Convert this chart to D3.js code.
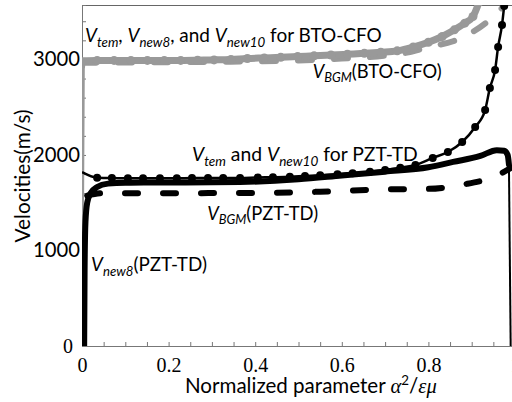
<!DOCTYPE html>
<html>
<head>
<meta charset="utf-8">
<style>
    body { margin: 0; background: #fff; }
    svg { display: block; }
</style>
</head>
<body>
<svg id="chart" width="512" height="402"></svg>
<script src="https://d3js.org/d3.v7.min.js"></script>
<script>
    // BTO-CFO : V_tem / V_new8 / V_new10 (grey solid with dots)
    let btoTemX = [0, 0.035, 0.074, 0.113, 0.151, 0.19, 0.228, 0.267, 0.305, 0.344, 0.382, 0.421, 0.459, 0.498,
        0.536, 0.575, 0.613, 0.652, 0.69, 0.728, 0.765, 0.8, 0.832, 0.86, 0.884, 0.903, 0.917];
    let btoTem = [2985, 2990, 2990, 2990, 2990, 2990, 2990, 2992, 2995, 3000, 3010, 3016, 3022, 3030,
        3038, 3046, 3055, 3064, 3075, 3090, 3130, 3180, 3240, 3310, 3380, 3450, 3600];
    // BTO-CFO : V_new8 rise at α→0
    let btoRiseX = [0.001, 0.003, 0.006];
    let btoRise = [1200, 2900, 2985];
    // BTO-CFO : V_BGM (grey dashed)
    let btoBgmX = [0, 0.15, 0.3, 0.5, 0.6, 0.7, 0.76, 0.8, 0.857, 0.903, 0.945, 0.975, 0.985];
    let btoBgm = [2965, 2970, 2975, 2990, 3010, 3040, 3080, 3130, 3190, 3290, 3430, 3570, 3640];

    // PZT-TD : V_tem / V_new10 (black thin with dots)
    let pztTemX = [0, 0.035, 0.069, 0.106, 0.141, 0.18, 0.219, 0.254, 0.291, 0.326, 0.365, 0.406, 0.441, 0.48,
        0.515, 0.55, 0.59, 0.625, 0.665, 0.7, 0.735, 0.77, 0.81, 0.845, 0.878, 0.908, 0.931, 0.942, 0.954, 0.961,
        0.97, 0.975];
    let pztTem = [1820, 1762, 1758, 1757, 1757, 1757, 1757, 1758, 1758, 1759, 1759, 1765, 1767, 1773,
        1780, 1787, 1798, 1808, 1825, 1843, 1867, 1895, 1969, 2031, 2136, 2293, 2470, 2702, 2890, 3131,
        3361, 3560];
    // PZT-TD : V_new8 (black thick)
    let pztNew8X = [0.005, 0.006, 0.008, 0.012, 0.02, 0.035, 0.06, 0.1, 0.2, 0.365, 0.5, 0.6, 0.7, 0.8,
        0.857, 0.92, 0.958, 0.975, 0.983, 0.986];
    let pztNew8 = [0, 800, 1300, 1500, 1600, 1665, 1700, 1710, 1712, 1717, 1745, 1785, 1825, 1872,
        1927, 1990, 2050, 2045, 2000, 1900];
    let pztDropX = [0.986, 0.99];
    let pztDrop = [1900, 0];
    // PZT-TD : V_BGM (black dashed)
    let pztBgmX = [0.012, 0.05, 0.2, 0.4, 0.55, 0.7, 0.8, 0.88, 0.95, 0.97, 0.99];
    let pztBgm = [1575, 1600, 1600, 1603, 1615, 1640, 1645, 1690, 1770, 1812, 1864];

    let xMajor = [0, 0.2, 0.4, 0.6, 0.8, 1];
    let yMajor = [0, 1000, 2000, 3000];

    // annotation texts, anchored at (x value, velocity)
    let notes = [
        { x: 0.007, y: 3183, parts: [["V", "i"], ["tem", "s"], [", ", "n"], ["V", "i"], ["new8", "s"], [", and ", "n"], ["V", "i"], ["new10", "s"], [" for BTO-CFO", "n"]] },
        { x: 0.533, y: 2806, parts: [["V", "i"], ["BGM", "s"], ["(BTO-CFO)", "n"]] },
        { x: 0.254, y: 1937, parts: [["V", "i"], ["tem", "s"], [" and ", "n"], ["V", "i"], ["new10", "s"], [" for PZT-TD", "n"]] },
        { x: 0.289, y: 1319, parts: [["V", "i"], ["BGM", "s"], ["(PZT-TD)", "n"]] },
        { x: 0.021, y: 785, parts: [["V", "i"], ["new8", "s"], ["(PZT-TD)", "n"]] }
    ];
    let noteWidths = [297, 129, 226, 111, 116];

    let svg = d3.select("#chart");
    let sans = "Lato, 'Open Sans', sans-serif";
    let serif = "'Liberation Serif', 'DejaVu Serif', serif";

    let x = d3.scaleLinear().domain([0, 1]).range([82, 515]);
    let y = d3.scaleLinear().domain([0, 3570]).range([346, 5]);

    let zip = (xs, ys) => xs.map((v, i) => [v, ys[i]]);

    svg.append("clipPath").attr("id", "plot")
        .append("rect").attr("x", 82).attr("y", 5).attr("width", 433).attr("height", 341);

    // frame top
    svg.append("line").attr("x1", 82).attr("x2", 515).attr("y1", 5.5).attr("y2", 5.5)
        .attr("stroke", "#666").attr("stroke-width", 1);

    // axes (minor ticks pointing inward)
    let xAxis = svg.append("g").attr("transform", "translate(0,346)")
        .call(d3.axisBottom(x).tickValues(d3.range(0, 1.001, 0.05)).tickSize(-4).tickFormat(""));
    let yAxis = svg.append("g").attr("transform", "translate(82,0)")
        .call(d3.axisLeft(y).tickValues(d3.range(0, 3401, 200)).tickSize(-4).tickFormat(""));
    [xAxis, yAxis].forEach((a) => {
        a.select(".domain").attr("stroke", "#777");
        a.selectAll(".tick line").attr("stroke", "#777");
    });

    let xLab = svg.append("g").attr("transform", "translate(0,346)")
        .call(d3.axisBottom(x).tickValues(xMajor).tickSize(0).tickPadding(12).tickFormat((d) => String(d)));
    xLab.select(".domain").remove();
    xLab.selectAll("text").attr("font-family", serif).attr("font-size", 20).attr("fill", "#000");

    let yLab = svg.append("g").attr("transform", "translate(82,0)")
        .call(d3.axisLeft(y).tickValues(yMajor).tickSize(0).tickPadding(2).tickFormat(d3.format("d")));
    yLab.select(".domain").remove();
    yLab.selectAll("text").attr("font-family", sans).attr("font-size", 19).attr("fill", "#000");
    yLab.selectAll(".tick").filter((d) => d === 0).select("text")
        .attr("font-family", serif).attr("font-size", 20).attr("x", -9);
    fitWidth(yLab.selectAll(".tick").filter((d) => d === 3000).select("text"), 47);
    yLab.selectAll(".tick").filter((d) => d === 1000 || d === 2000).select("text")
        .attr("font-size", yLab.selectAll(".tick").filter((d) => d === 3000).select("text").attr("font-size"));

    // curves
    let line = d3.line().x((d) => x(d[0])).y((d) => y(d[1])).curve(d3.curveMonotoneX);
    let body = svg.append("g").attr("clip-path", "url(#plot)");

    let grey = "#999999";
    body.append("path").attr("d", line(zip(btoBgmX, btoBgm))).attr("fill", "none")
        .attr("stroke", grey).attr("stroke-width", 6).attr("stroke-dasharray", "14,22").attr("stroke-linecap", "round");
    body.append("path").attr("d", line(zip(btoRiseX, btoRise))).attr("fill", "none")
        .attr("stroke", grey).attr("stroke-width", 3);
    body.append("path").attr("d", line(zip(btoTemX, btoTem))).attr("fill", "none")
        .attr("stroke", grey).attr("stroke-width", 7).attr("stroke-linejoin", "round");
    body.selectAll(".gdot").data(zip(btoTemX, btoTem).slice(1)).enter()
        .append("circle").attr("class", "gdot")
        .attr("cx", (d) => x(d[0])).attr("cy", (d) => y(d[1])).attr("r", 4.5).attr("fill", grey);

    body.append("path").attr("d", line(zip(pztBgmX, pztBgm))).attr("fill", "none")
        .attr("stroke", "#000").attr("stroke-width", 6).attr("stroke-dasharray", "13,25").attr("stroke-linecap", "round");
    body.append("path").attr("d", line(zip(pztNew8X, pztNew8))).attr("fill", "none")
        .attr("stroke", "#000").attr("stroke-width", 6).attr("stroke-linejoin", "round").attr("stroke-linecap", "round");
    body.append("path").attr("d", d3.line().x((d) => x(d[0])).y((d) => y(d[1]))(zip(pztDropX, pztDrop)))
        .attr("fill", "none").attr("stroke", "#000").attr("stroke-width", 2);
    body.append("path").attr("d", line(zip(pztTemX, pztTem))).attr("fill", "none")
        .attr("stroke", "#000").attr("stroke-width", 2.5);
    body.selectAll(".bdot").data(zip(pztTemX, pztTem).slice(1)).enter()
        .append("circle").attr("class", "bdot")
        .attr("cx", (d) => x(d[0])).attr("cy", (d) => y(d[1])).attr("r", 4).attr("fill", "#000");

    // writes the parts of a label at a given size
    function fill(t, parts, size) {
        t.selectAll("tspan").remove();
        t.attr("font-size", size);
        let shift = size * 0.24;
        let shifted = false;
        parts.forEach((p) => {
            let s = t.append("tspan").text(p[0]);
            if (p[1] === "i") s.attr("font-style", "italic");
            if (p[1] === "s") {
                s.attr("font-style", "italic").attr("font-size", size * 0.7).attr("dy", shifted ? 0 : shift);
                shifted = true;
            } else if (shifted) {
                s.attr("dy", -shift);
                shifted = false;
            }
        });
    }
    // scale the font so the text gets the width seen in the picture
    function fitWidth(t, target) {
        let w = t.node().getComputedTextLength();
        let f = +t.attr("font-size");
        t.attr("font-size", f * target / w);
        return f * target / w;
    }

    notes.forEach((n, i) => {
        let t = svg.append("text").attr("x", x(n.x)).attr("y", y(n.y))
            .attr("font-family", sans).attr("fill", "#000");
        fill(t, n.parts, 18);
        let w = t.node().getComputedTextLength();
        fill(t, n.parts, 18 * noteWidths[i] / w);
    });

    // axis titles
    let xt = svg.append("text").attr("x", 185).attr("y", 393)
        .attr("font-family", sans).attr("fill", "#000");
    function xTitle(size) {
        xt.selectAll("tspan").remove();
        xt.attr("font-size", size);
        xt.append("tspan").text("Normalized parameter ");
        xt.append("tspan").attr("font-family", serif).attr("font-style", "italic").text("α");
        xt.append("tspan").attr("font-size", size * 0.65).attr("dy", -size * 0.38).text("2");
        xt.append("tspan").attr("dy", size * 0.38).text("/");
        xt.append("tspan").attr("font-family", serif).attr("font-style", "italic").text("εμ");
    }
    xTitle(18);
    xTitle(18 * 252 / xt.node().getComputedTextLength());

    let yt = svg.append("text").attr("transform", "translate(30,176) rotate(-90)").attr("text-anchor", "middle")
        .attr("font-family", sans).attr("font-size", 18).attr("fill", "#000").text("Velocities(m/s)");
    fitWidth(yt, 133);
</script>
</body>
</html>
